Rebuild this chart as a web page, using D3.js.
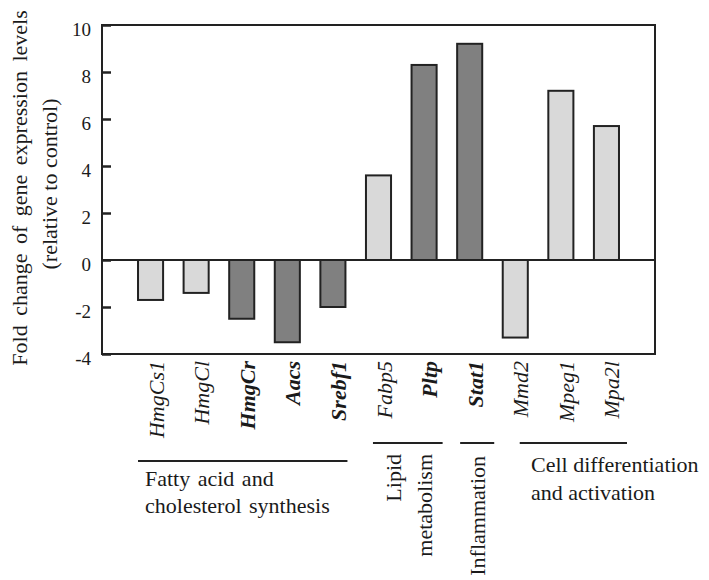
<!DOCTYPE html>
<html>
<head>
<meta charset="utf-8">
<script src="https://cdn.jsdelivr.net/npm/d3@7"></script>
<style>
  html, body { margin: 0; padding: 0; background: #fff; }
  svg { display: block; }
  text { font-family: "Liberation Serif", "Times New Roman", serif; fill: #1a1a1a; }
</style>
</head>
<body>
<svg id="chart" width="709" height="580"></svg>
<script>
// ---- data ----
const genes = ["HmgCs1", "HmgCl", "HmgCr", "Aacs", "Srebf1", "Fabp5", "Pltp", "Stat1", "Mmd2", "Mpeg1", "Mpa2l"];
const foldChange = [-1.7, -1.4, -2.5, -3.5, -2.0, 3.6, 8.3, 9.2, -3.3, 7.2, 5.7];
const highlighted = [false, false, true, true, true, false, true, true, false, false, false];
const yTicks = [-4, -2, 0, 2, 4, 6, 8, 10];
const yTitle = ["Fold change of gene expression levels", "(relative to control)"];
const groupNames = ["Fatty acid and|cholesterol synthesis", "Lipid|metabolism", "Inflammation", "Cell differentiation|and activation"];
const groupFirst = ["HmgCs1", "Fabp5", "Stat1", "Mmd2"];
const groupLast = ["Srebf1", "Pltp", "Stat1", "Mpa2l"];

// ---- layout ----
const svg = d3.select("#chart");
const plotL = 102, plotR = 655, plotT = 25, plotB = 354;
const serif = "'Liberation Serif', 'Times New Roman', serif";

const x = d3.scaleBand().domain(genes).range([plotL, plotR]).paddingInner(0.45).paddingOuter(0.79);
const y = d3.scaleLinear().domain([-4, 10]).range([plotB, plotT]);

const lightFill = "#d9d9d9", darkFill = "#808080", ink = "#222";

// bars
svg.append("g").selectAll("rect")
  .data(genes)
  .join("rect")
  .attr("x", d => x(d))
  .attr("width", x.bandwidth())
  .attr("y", (d, i) => y(Math.max(0, foldChange[i])))
  .attr("height", (d, i) => Math.abs(y(foldChange[i]) - y(0)))
  .attr("fill", (d, i) => highlighted[i] ? darkFill : lightFill)
  .attr("stroke", ink)
  .attr("stroke-width", 2);

// frame
svg.append("rect")
  .attr("x", plotL).attr("y", plotT)
  .attr("width", plotR - plotL).attr("height", plotB - plotT)
  .attr("fill", "none").attr("stroke", ink).attr("stroke-width", 2);

// zero line
svg.append("line")
  .attr("x1", plotL).attr("x2", plotR)
  .attr("y1", y(0)).attr("y2", y(0))
  .attr("stroke", ink).attr("stroke-width", 2);

// y axis (inward ticks)
const yAxis = d3.axisLeft(y).tickValues(yTicks).tickSize(-9).tickPadding(11).tickFormat(d => String(d));
const gy = svg.append("g").attr("transform", `translate(${plotL},0)`).call(yAxis)
  .attr("font-family", serif).attr("font-size", 19);
gy.select(".domain").remove();
gy.selectAll(".tick line").attr("stroke", ink).attr("stroke-width", 2.5);
gy.selectAll(".tick text")
  .attr("dy", "0.55em")
  .style("font-family", serif)
  .style("font-size", "19px")
  .attr("fill", "#1a1a1a");

// y title
svg.append("g").selectAll("text")
  .data(yTitle)
  .join("text")
  .attr("transform", (d, i) => `translate(${27 + i * 30},${i === 0 ? 188 : 184}) rotate(-90)`)
  .attr("text-anchor", "middle")
  .style("font-size", "22px")
  .style("word-spacing", (d, i) => i === 0 ? "4px" : "0px")
  .text(d => d);

// gene labels
svg.append("g").selectAll("text")
  .data(genes)
  .join("text")
  .attr("transform", d => `translate(${x(d) + x.bandwidth() / 2 + 13},361) rotate(-90)`)
  .attr("text-anchor", "end")
  .style("font-size", "22px")
  .style("font-style", "italic")
  .style("font-weight", (d, i) => highlighted[i] ? "bold" : "normal")
  .text(d => d);

// group underlines
const bw = x.bandwidth();
const lineExtents = [
  [x(groupFirst[0]), x(groupLast[0]) + bw + 2, 461],
  [x(groupFirst[1]) + 7, x(groupLast[1]) + bw + 6, 443],
  [x(groupFirst[2]) + 3, x(groupLast[2]) + bw + 12, 443],
  [x(groupFirst[3]) + 17, x(groupLast[3]) + bw + 8, 443]
];
svg.append("g").selectAll("line")
  .data(lineExtents)
  .join("line")
  .attr("x1", d => d[0]).attr("x2", d => d[1])
  .attr("y1", d => d[2]).attr("y2", d => d[2])
  .attr("stroke", ink).attr("stroke-width", 2);

// group labels
const g0 = groupNames[0].split("|");
svg.append("g").selectAll("text").data(g0).join("text")
  .attr("x", 145).attr("y", (d, i) => 486 + i * 27)
  .style("font-size", "22px")
  .style("word-spacing", "2px")
  .text(d => d);

const g1 = groupNames[1].split("|");
svg.append("g").selectAll("text").data(g1).join("text")
  .attr("transform", (d, i) => `translate(${i === 0 ? 401 : 432},454) rotate(-90)`)
  .attr("text-anchor", "end")
  .style("font-size", "22px")
  .text(d => d);

svg.append("text")
  .attr("transform", `translate(485,456) rotate(-90)`)
  .attr("text-anchor", "end")
  .style("font-size", "22px")
  .text(groupNames[2]);

const g3 = groupNames[3].split("|");
svg.append("g").selectAll("text").data(g3).join("text")
  .attr("x", 531).attr("y", (d, i) => 472 + i * 28)
  .style("font-size", "22px")
  .text(d => d);
</script>
</body>
</html>
